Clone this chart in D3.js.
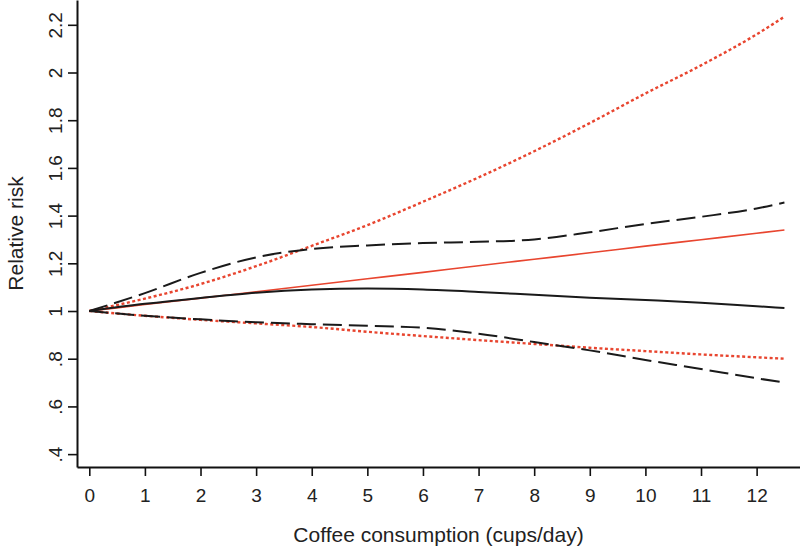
<!DOCTYPE html>
<html>
<head>
<meta charset="utf-8">
<script src="https://cdn.jsdelivr.net/npm/d3@7"></script>
<style>
  html, body { margin: 0; padding: 0; background: #fff; }
  svg { display: block; font-family: "Liberation Sans", Arial, sans-serif; }
</style>
</head>
<body>
<svg id="chart" width="800" height="546"></svg>
<script>
// ---- data ----
const cups = [0, 1, 2, 3, 4, 5, 6, 7, 8, 9, 10, 11, 12, 12.5];
const rrSpline      = [1, 1.03, 1.055, 1.077, 1.09, 1.094, 1.09, 1.08, 1.068, 1.056, 1.046, 1.035, 1.02, 1.013];
const rrSplineLow   = [1, 0.98, 0.965, 0.953, 0.945, 0.938, 0.93, 0.905, 0.87, 0.835, 0.795, 0.757, 0.718, 0.70];
const rrSplineHigh  = [1, 1.075, 1.16, 1.225, 1.26, 1.275, 1.285, 1.29, 1.30, 1.33, 1.365, 1.395, 1.43, 1.455];
const rrLinear      = [1, 1.027, 1.054, 1.081, 1.108, 1.135, 1.162, 1.19, 1.217, 1.244, 1.272, 1.299, 1.326, 1.34];
const rrLinearLow   = [1, 0.98, 0.963, 0.948, 0.933, 0.913, 0.895, 0.878, 0.862, 0.846, 0.832, 0.818, 0.806, 0.80];
const rrLinearHigh  = [1, 1.052, 1.113, 1.188, 1.273, 1.36, 1.458, 1.56, 1.67, 1.788, 1.912, 2.03, 2.16, 2.234];
const xTicks = [0, 1, 2, 3, 4, 5, 6, 7, 8, 9, 10, 11, 12];
const yTicks = [0.4, 0.6, 0.8, 1, 1.2, 1.4, 1.6, 1.8, 2, 2.2];
const yTickLabels = [".4", ".6", ".8", "1", "1.2", "1.4", "1.6", "1.8", "2", "2.2"];
const xTitle = "Coffee consumption (cups/day)";
const yTitle = "Relative risk";

// ---- layout ----
const svg = d3.select("#chart");
const mLeft = 77, mRight = 800, mTop = 0, mBottom = 467;
const x = d3.scaleLinear().domain([-0.221, 12.78]).range([mLeft, mRight]);
const y = d3.scaleLinear().domain([0.346, 2.304]).range([mBottom, mTop]);

const textColor = "#222";
const red = "#e8452f";

// axes
const xAxis = d3.axisBottom(x).tickValues(xTicks).tickFormat(d3.format("d")).tickSize(9).tickSizeOuter(0);
const gx = svg.append("g").attr("transform", `translate(0,${mBottom})`).call(xAxis);
gx.select(".domain").attr("stroke", "#111").attr("stroke-width", 2);
gx.selectAll(".tick line").attr("stroke", "#111").attr("stroke-width", 1.6);
gx.selectAll(".tick text").attr("font-size", 19).attr("fill", textColor)
  .attr("dy", null).attr("y", 35);

const yAxis = d3.axisLeft(y).tickValues(yTicks).tickFormat((d, i) => yTickLabels[i]).tickSize(9).tickSizeOuter(0);
const gy = svg.append("g").attr("transform", `translate(${mLeft},0)`).call(yAxis);
gy.select(".domain").attr("stroke", "#111").attr("stroke-width", 2);
gy.selectAll(".tick line").attr("stroke", "#111").attr("stroke-width", 1.6);
gy.selectAll(".tick text").attr("font-size", 19).attr("fill", textColor)
  .attr("x", null).attr("dy", null)
  .attr("text-anchor", "middle")
  .attr("transform", "translate(-15,0) rotate(-90)");

// titles
svg.append("text").attr("x", (mLeft + mRight) / 2).attr("y", 542)
  .attr("text-anchor", "middle").attr("font-size", 21).attr("fill", textColor).text(xTitle);
svg.append("text").attr("transform", `translate(23,${(mTop + mBottom) / 2}) rotate(-90)`)
  .attr("text-anchor", "middle").attr("font-size", 21).attr("fill", textColor).text(yTitle);

// lines
const line = d3.line().x(d => x(d[0])).y(d => y(d[1])).curve(d3.curveMonotoneX);
function draw(vals, color, width, dash) {
  svg.append("path")
    .datum(cups.map((c, i) => [c, vals[i]]))
    .attr("d", line)
    .attr("fill", "none")
    .attr("stroke", color)
    .attr("stroke-width", width)
    .attr("stroke-dasharray", dash);
}
draw(rrLinearHigh, red, 2.4, "3,2.5");
draw(rrLinearLow, red, 2.4, "3,2.5");
draw(rrLinear, red, 1.6, null);
draw(rrSplineHigh, "#1a1a1a", 2, "19,7");
draw(rrSplineLow, "#1a1a1a", 2, "19,7");
draw(rrSpline, "#1a1a1a", 2, null);
</script>
</body>
</html>
